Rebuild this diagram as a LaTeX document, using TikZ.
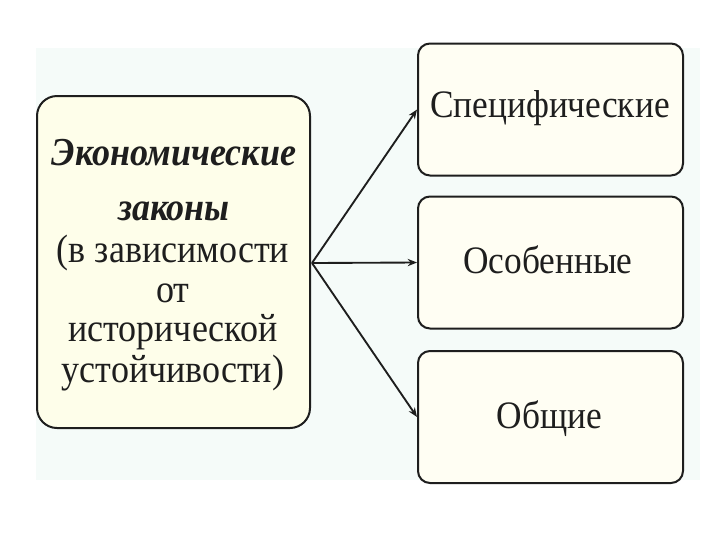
\documentclass[tikz,border=0pt]{standalone}
\usepackage{graphicx}
\usepackage{fontspec}
\setmainfont{Liberation Serif}
\usetikzlibrary{arrows.meta}
\definecolor{bgpale}{HTML}{F5FBF9}
\definecolor{boxfill}{HTML}{FEFEEA}
\definecolor{boxfill2}{HTML}{FFFEF3}
\definecolor{ink}{HTML}{1E1E1E}
\newcommand{\tallbox}[1]{\scalebox{1}[1.1]{#1}}
\tikzset{
  px/.style={x=0.75pt,y=-0.75pt},
  mainbox/.style={draw=ink,line width=1.5pt,fill=boxfill,rounded corners=15pt,minimum width=204.75pt,minimum height=249pt,inner sep=0pt},
  subbox/.style={draw=ink,line width=1.5pt,fill=boxfill2,rounded corners=9pt,minimum width=198.75pt,minimum height=99pt,inner sep=0pt},
  subtext/.style={font=\fontsize{26.5}{30}\selectfont,text=ink,anchor=base,inner sep=0pt},
  maintext/.style={font=\fontsize{27}{31}\selectfont,text=ink,anchor=base,inner sep=0pt},
  titletext/.style={font=\fontsize{27}{31}\selectfont\bfseries\itshape,text=ink,anchor=base,inner sep=0pt},
  conn/.style={draw=ink,line width=1.4pt,-{Stealth[length=7pt,width=5.5pt]}}
}
\begin{document}
\begin{tikzpicture}[px]
\useasboundingbox (0,0) rectangle (720,540);
\fill[white] (0,0) rectangle (720,540);
\fill[bgpale] (36,48) rectangle (700,480);
\node[mainbox] (main) at (173.5,262) {};
\node[subbox] (s1) at (550.5,109.5) {};
\node[subbox] (s2) at (550.5,262.5) {};
\node[subbox] (s3) at (550.5,417) {};
\node[subtext] (t1) at (550,117) {\tallbox{Специфические}};
\node[subtext] (t2) at (548,273) {\tallbox{Особенные}};
\node[subtext] (t3) at (549.5,428) {\tallbox{Общие}};
\node[titletext] (m1) at (174,165) {\tallbox{Экономические}};
\node[titletext] (m2) at (174,220) {\tallbox{законы}};
\node[maintext] (m3) at (173,262) {\tallbox{(в зависимости}};
\node[maintext] (m4) at (173,302) {\tallbox{от}};
\node[maintext] (m5) at (173,341) {\tallbox{исторической}};
\node[maintext] (m6) at (173,382) {\tallbox{устойчивости)}};
\coordinate (src) at (312,263);
\draw[conn] (src) -- (s1.west);
\draw[conn] (src) -- (s2.west);
\draw[conn] (src) -- (s3.west);
\end{tikzpicture}
\end{document}
